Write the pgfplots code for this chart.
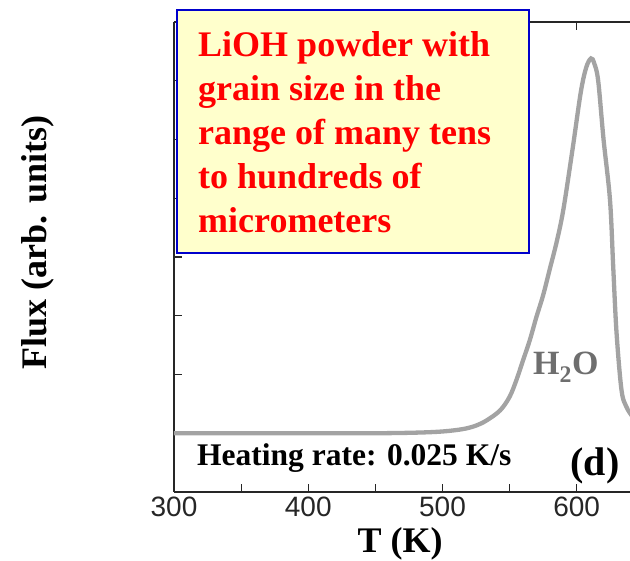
\documentclass[border=0pt]{standalone}
\usepackage{fontspec}
\setmainfont{Liberation Serif}
\newfontfamily\tickfont{Liberation Sans}
\usepackage{pgfplots}
\pgfplotsset{compat=1.18}
\definecolor{boxfill}{HTML}{FFFFCC}
\definecolor{boxedge}{HTML}{0000CC}
\definecolor{curvegray}{HTML}{A3A3A3}
\definecolor{labelgray}{HTML}{6E6E6E}
\begin{document}
\begin{tikzpicture}[x=1pt,y=1pt]
\useasboundingbox (0,0) rectangle (630,561);
\begin{axis}[
  at={(174pt,69pt)}, anchor=south west,
  scale only axis, width=456pt, height=470pt,
  xmin=300, xmax=639.7, ymin=-1, ymax=7,
  axis x line*=box, axis y line*=left,
  axis line style={line width=1.3pt, color=black!85},
  tick style={line width=1.1pt, color=black!85},
  tick align=inside,
  major tick length=8pt, minor tick length=8pt,
  xtick={300,400,500,600}, xticklabels={300,400,500,600},
  minor xtick={350,450,550,650},
  xtick pos=both,
  ytick={0,1,2,3,4,5,6}, yticklabels={},
  xticklabel style={font=\tickfont\fontsize{28}{28}\selectfont, text=black!85, yshift=-1pt},
  xlabel={\bfseries T (K)},
  xlabel style={font=\fontsize{36}{36}\selectfont, at={(axis description cs:0.4956,-0.1277)}, anchor=base},
  ylabel={\bfseries Flux (arb. units)},
  ylabel style={font=\fontsize{36}{36}\selectfont, at={(axis description cs:-0.298,0.53)}, anchor=center, rotate=0},
  clip=true,
]
% H2O desorption flux, heating rate 0.025 K/s
\addplot[color=curvegray, line width=4.3pt, smooth, tension=0.55] coordinates {
  (300,0) (350,0) (400,0) (450,0) (480,0.01) (500,0.03) (515,0.07)
  (525,0.13) (533,0.22) (543,0.39) (550,0.62) (555,0.9) (560,1.24)
  (565,1.58) (570,1.98) (575,2.35) (580,2.8) (585,3.25) (590,3.8)
  (597,4.85) (603,5.8) (607,6.22) (610.6,6.38) (613,6.3) (616,6.0)
  (620,5.0) (624.8,3.97) (627.2,2.83) (629.7,1.7) (633.4,0.73)
  (637,0.45) (641,0.3)
};
\end{axis}
% annotation box
\draw[boxedge, line width=2pt, fill=boxfill] (177,551) rectangle (529,308);
\begin{scope}[every node/.style={anchor=base west, inner sep=0pt, text=red,
    font=\bfseries\fontsize{36}{44}\selectfont}]
\node at (198,504) {LiOH powder with};
\node at (198,460) {grain size in the};
\node at (198,416) {range of many tens};
\node at (198,372) {to hundreds of};
\node at (198,328) {micrometers};
\end{scope}
\node[anchor=base west, inner sep=0pt, font=\bfseries\fontsize{31.5}{31.5}\selectfont] at (197,95) {Heating rate: 0.025 K/s};
\node[anchor=base, inner sep=0pt, font=\bfseries\fontsize{40}{40}\selectfont] at (595,85) {(d)};
\node[anchor=base west, inner sep=0pt, text=labelgray, font=\bfseries\fontsize{34}{34}\selectfont] at (533,186) {H\textsubscript{2}O};
\end{tikzpicture}
\end{document}
